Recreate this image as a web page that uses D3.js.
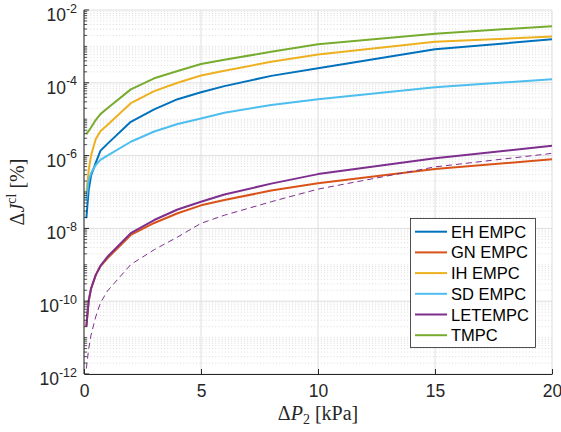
<!DOCTYPE html>
<html><head><meta charset="utf-8">
<script src="https://cdn.jsdelivr.net/npm/d3@7"></script>
<style>body{margin:0;background:#fff;} svg{display:block;}</style>
</head><body>
<svg id="c" width="561" height="432"></svg>
<script>
const xVals = [0.1, 0.2, 0.3, 0.5, 0.7, 1, 2, 3, 4, 5, 6, 8, 10, 15, 20];
const ehEMPC  = [1.9e-8, 1.12e-7, 2.8e-7, 6.3e-7, 1.35e-6, 2.1e-6, 8.5e-6, 1.86e-5, 3.55e-5, 5.5e-5, 8.1e-5, 1.55e-4, 2.5e-4, 8.3e-4, 1.57e-3];
const gnEMPC  = [2.0e-11, 1.02e-10, 2.2e-10, 5.2e-10, 9.1e-10, 1.51e-9, 6.6e-9, 1.41e-8, 2.6e-8, 4.3e-8, 6.0e-8, 1.1e-7, 1.74e-7, 4.3e-7, 7.9e-7];
const ihEMPC  = [9.1e-8, 4.0e-7, 1.0e-6, 2.8e-6, 4.7e-6, 6.9e-6, 2.75e-5, 5.9e-5, 1.0e-4, 1.58e-4, 2.14e-4, 3.8e-4, 6.0e-4, 1.35e-3, 1.86e-3];
const sdEMPC  = [6.0e-8, 2.1e-7, 3.3e-7, 5.5e-7, 7.6e-7, 1.0e-6, 2.4e-6, 4.6e-6, 7.4e-6, 1.05e-5, 1.51e-5, 2.45e-5, 3.55e-5, 7.6e-5, 1.26e-4];
const letEMPC = [2.0e-11, 1.02e-10, 2.2e-10, 5.2e-10, 9.3e-10, 1.66e-9, 7.4e-9, 1.7e-8, 3.3e-8, 5.4e-8, 8.5e-8, 1.7e-7, 3.1e-7, 8.5e-7, 1.86e-6];
const tmpc    = [3.9e-6, 4.8e-6, 5.9e-6, 9.5e-6, 1.38e-5, 2.0e-5, 6.6e-5, 1.33e-4, 2.1e-4, 3.3e-4, 4.3e-4, 7.1e-4, 1.15e-3, 2.24e-3, 3.6e-3];
const letDashed = [1.41e-12, 4.9e-12, 1.17e-11, 3.7e-11, 8.9e-11, 1.9e-10, 1.02e-9, 2.6e-9, 5.8e-9, 1.38e-8, 2.3e-8, 5.4e-8, 1.2e-7, 4.9e-7, 1.15e-6];

const seriesNames = ["EH EMPC", "GN EMPC", "IH EMPC", "SD EMPC", "LETEMPC", "TMPC"];
const seriesColors = ["#0072BD", "#D95319", "#EDB120", "#4DBEEE", "#7E2F8E", "#77AC30"];
const seriesData = [ehEMPC, gnEMPC, ihEMPC, sdEMPC, letEMPC, tmpc];

const xTicks = [0, 5, 10, 15, 20];
const yTickExps = [-12, -10, -8, -6, -4, -2];

const L = 84, R = 552, T = 10, B = 374;
const sans = "'Liberation Sans', Arial, Helvetica, sans-serif";
const serif = "'Liberation Serif', 'Times New Roman', serif";
const svg = d3.select("#c");
const x = d3.scaleLinear().domain([0, 20]).range([L, R]);
const y = d3.scaleLog().domain([1e-12, 1e-2]).range([B, T]);

const grid = svg.append("g");
const minorVals = [];
for (let e = -12; e < -2; e++) for (let m = 2; m <= 9; m++) minorVals.push(m * Math.pow(10, e));
const oddDecades = [];
for (let e = -11; e < -2; e += 2) oddDecades.push(Math.pow(10, e));
grid.selectAll("line.mn").data(minorVals.concat(oddDecades)).enter().append("line")
  .attr("x1", L).attr("x2", R).attr("y1", d => y(d)).attr("y2", d => y(d))
  .attr("stroke", "#c4c4c4").attr("stroke-width", 0.6).attr("stroke-dasharray", "1,2.2");
grid.selectAll("line.mjy").data(yTickExps.map(e => Math.pow(10, e))).enter().append("line")
  .attr("x1", L).attr("x2", R).attr("y1", d => y(d)).attr("y2", d => y(d))
  .attr("stroke", "#dedede").attr("stroke-width", 1);
grid.selectAll("line.mjx").data(xTicks).enter().append("line")
  .attr("y1", T).attr("y2", B).attr("x1", d => x(d)).attr("x2", d => x(d))
  .attr("stroke", "#dedede").attr("stroke-width", 1);

const line = d3.line().x((d, i) => x(xVals[i])).y(d => y(d));
seriesData.forEach((s, k) => {
  svg.append("path").datum(s).attr("d", line).attr("fill", "none")
    .attr("stroke", seriesColors[k]).attr("stroke-width", 2).attr("stroke-linejoin", "round");
});
svg.append("path").datum(letDashed).attr("d", line).attr("fill", "none")
  .attr("stroke", "#7E2F8E").attr("stroke-width", 1).attr("stroke-dasharray", "6,4");

const axCol = "#262626";
const xAxis = d3.axisBottom(x).tickValues(xTicks).tickSizeInner(-5).tickSizeOuter(0).tickPadding(11);
const gx = svg.append("g").attr("transform", `translate(0,${B})`).call(xAxis);
gx.select(".domain").attr("stroke", axCol);
gx.selectAll(".tick line").attr("stroke", axCol);
gx.selectAll(".tick text").attr("fill", axCol).attr("font-family", sans).attr("font-size", 17.5);

const gy = svg.append("g").attr("transform", `translate(${L},0)`);
gy.append("line").attr("x1", 0).attr("x2", 0).attr("y1", T).attr("y2", B).attr("stroke", axCol);
gy.selectAll("line.mt").data(minorVals.concat(oddDecades)).enter().append("line")
  .attr("x1", 0).attr("x2", 3).attr("y1", d => y(d)).attr("y2", d => y(d)).attr("stroke", axCol).attr("stroke-width", 0.8);
gy.selectAll("line.Mt").data(yTickExps.map(e => Math.pow(10, e))).enter().append("line")
  .attr("x1", 0).attr("x2", 5).attr("y1", d => y(d)).attr("y2", d => y(d)).attr("stroke", axCol);
const yl = gy.selectAll("text.yl").data(yTickExps).enter().append("text")
  .attr("x", -7).attr("y", d => y(Math.pow(10, d)) + 11)
  .attr("text-anchor", "end").attr("fill", axCol)
  .attr("font-family", sans).attr("font-size", 17.5);
yl.append("tspan").text("10");
yl.append("tspan").attr("font-size", 12.5).attr("dy", -8.5).text(d => "-" + Math.abs(d));

const xl = svg.append("text").attr("x", 318).attr("y", 420).attr("text-anchor", "middle")
  .attr("font-family", serif).attr("font-size", 20).attr("fill", axCol);
xl.append("tspan").text("Δ");
xl.append("tspan").attr("font-style", "italic").text("P");
xl.append("tspan").attr("font-size", 14).attr("dy", 3.5).text("2");
xl.append("tspan").attr("dy", -3.5).text(" [kPa]");

const ylab = svg.append("text").attr("transform", `translate(24,${(T + B) / 2}) rotate(-90)`)
  .attr("text-anchor", "middle").attr("font-family", serif).attr("font-size", 20).attr("fill", axCol);
ylab.append("tspan").text("Δ");
ylab.append("tspan").attr("font-style", "italic").text("J");
ylab.append("tspan").attr("font-size", 14).attr("dy", -8).text("cl");
ylab.append("tspan").attr("dy", 8).text(" [%]");

const lg = svg.append("g");
lg.append("rect").attr("x", 410.5).attr("y", 218.5).attr("width", 125).attr("height", 129)
  .attr("fill", "#fff").attr("stroke", axCol).attr("stroke-width", 0.8);
seriesNames.forEach((n, i) => {
  const cy = 231.7 + i * 20.7;
  lg.append("line").attr("x1", 415).attr("x2", 447).attr("y1", cy).attr("y2", cy)
    .attr("stroke", seriesColors[i]).attr("stroke-width", 2);
  lg.append("text").attr("x", 451).attr("y", cy + 6).text(n)
    .attr("font-family", sans).attr("font-size", 16.5).attr("fill", "#000");
});
</script>
</body></html>
